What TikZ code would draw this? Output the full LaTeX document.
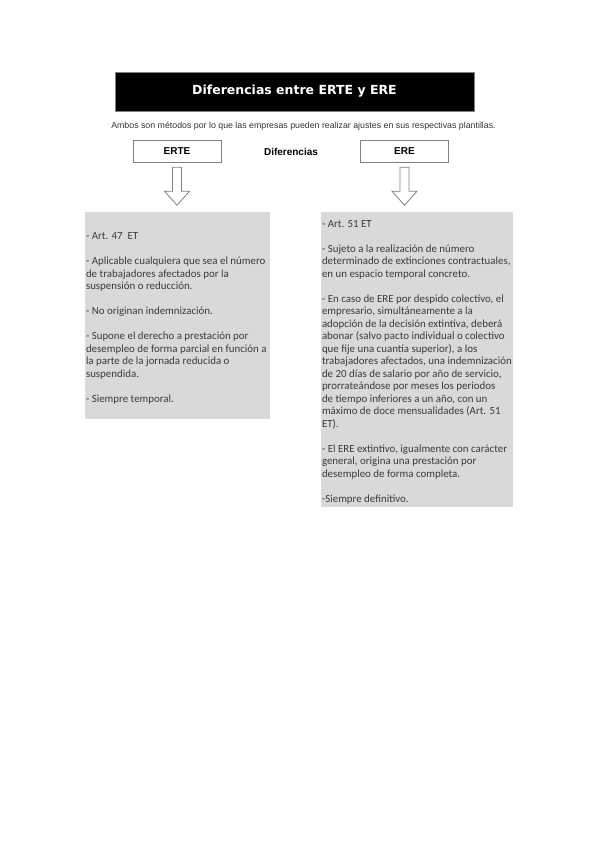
\documentclass[tikz,border=0pt]{standalone}
\usepackage{fontspec}
\setmainfont{Carlito}
\newfontfamily\arialfont{Liberation Sans}
\newfontfamily\verdfont{DejaVu Sans}
\usetikzlibrary{calc}

\definecolor{panelgray}{HTML}{D9D9D9}
\definecolor{textgray}{HTML}{3A3A3A}
\definecolor{linegray}{HTML}{808080}

\tikzset{
  titlebox/.style={draw=gray, fill=black, text=white, minimum width=359pt, minimum height=39pt, inner sep=0pt, font=\verdfont\bfseries\fontsize{12.5}{14}\selectfont},
  headbox/.style={draw=linegray, fill=white, minimum width=88pt, minimum height=22pt, inner sep=0pt, font=\arialfont\bfseries\fontsize{10}{12}\selectfont},
  panel/.style={fill=panelgray, draw=none, inner sep=0pt},
  paneltext/.style={anchor=north west, inner sep=0pt, align=left, text=textgray, font=\fontsize{10.9}{12.5}\selectfont},
  hollowarrow/.style={draw=linegray, fill=white, line width=0.8pt, line join=miter}
}

\begin{document}
\begin{tikzpicture}[x=1pt, y=-1pt]
\useasboundingbox (0,0) rectangle (599,848);

% Title
\node[titlebox] (title) at (294.5,91.5) {Diferencias entre ERTE y ERE};
\node[font=\arialfont\fontsize{8.8}{10}\selectfont, text=black!80] (intro) at (303.5,126)
  {Ambos son métodos por lo que las empresas pueden realizar ajustes en sus respectivas plantillas.};

% Headers
\node[headbox] (erte) at (177,151) {ERTE};
\node[headbox] (ere) at (404.5,151) {ERE};
\node[font=\arialfont\bfseries\fontsize{10}{12}\selectfont] (dif) at (291,152) {Diferencias};

% Hollow arrows
\draw[hollowarrow] ($(erte.south)+(-4.5,5)$) -- ++(0,24) -- ++(-8,0) -- ++(12.5,14)
  -- ++(12.5,-14) -- ++(-8,0) -- ++(0,-24) -- cycle;
\draw[hollowarrow] ($(ere.south)+(-4.5,5)$) -- ++(0,24) -- ++(-8,0) -- ++(12.5,14)
  -- ++(12.5,-14) -- ++(-8,0) -- ++(0,-24) -- cycle;

% ERTE panel
\node[panel, minimum width=185pt, minimum height=207pt] (ertepanel) at (177.5,315.5) {};
\node[paneltext] (ertetxt) at ($(ertepanel.north west)+(1,20.5)$) {%
- Art. 47\ \ ET\\[12.5pt]
- Aplicable cualquiera que sea el número\\
de trabajadores afectados por la\\
suspensión o reducción.\\[12.5pt]
- No originan indemnización.\\[12.5pt]
- Supone el derecho a prestación por\\
desempleo de forma parcial en función a\\
la parte de la jornada reducida o\\
suspendida.\\[12.5pt]
- Siempre temporal.};

% ERE panel
\node[panel, minimum width=192pt, minimum height=295pt] (erepanel) at (417,359.5) {};
\node[paneltext] (eretxt) at ($(erepanel.north west)+(1,8)$) {%
- Art. 51 ET\\[12.5pt]
- Sujeto a la realización de número\\
determinado de extinciones contractuales,\\
en un espacio temporal concreto.\\[12.5pt]
- En caso de ERE por despido colectivo, el\\
empresario, simultáneamente a la\\
adopción de la decisión extintiva, deberá\\
abonar (salvo pacto individual o colectivo\\
que fije una cuantía superior), a los\\
trabajadores afectados, una indemnización\\
de 20 días de salario por año de servicio,\\
prorrateándose por meses los periodos\\
de tiempo inferiores a un año, con un\\
máximo de doce mensualidades (Art. 51\\
ET).\\[12.5pt]
- El ERE extintivo, igualmente con carácter\\
general, origina una prestación por\\
desempleo de forma completa.\\[12.5pt]
-Siempre definitivo.};

\end{tikzpicture}
\end{document}
